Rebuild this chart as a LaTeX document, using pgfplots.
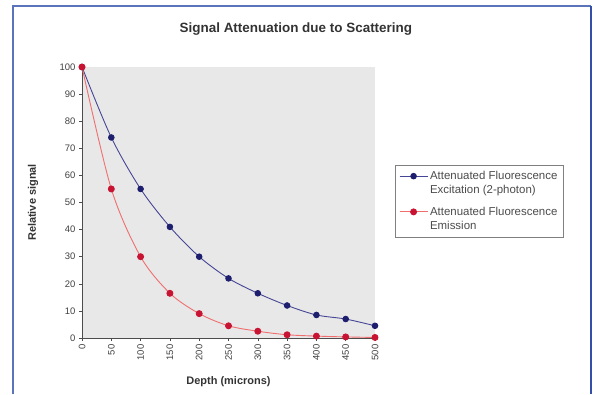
\documentclass[border=0pt]{standalone}
\usepackage{fontspec}
\setmainfont{Liberation Sans}
\usepackage{pgfplots}
\pgfplotsset{compat=1.18}
\definecolor{plotbg}{RGB}{232,232,232}
\definecolor{bluel}{RGB}{70,70,150}
\definecolor{bluem}{RGB}{30,30,110}
\definecolor{redl}{RGB}{240,110,110}
\definecolor{redm}{RGB}{200,20,50}
\definecolor{frame}{RGB}{50,80,170}
\begin{document}
\begin{tikzpicture}[x=1bp,y=1bp]
\useasboundingbox (0,0) rectangle (594,394);
\draw[frame!80,line width=1.5bp] (13,0) -- (13,388) -- (591,388);
\draw[frame,line width=2.5bp] (591,388) -- (591,0);
\begin{axis}[
  at={(82bp,56bp)}, anchor=south west,
  scale only axis, width=293bp, height=271bp,
  xmin=0, xmax=500, ymin=0, ymax=100,
  xtick={0,50,...,500}, ytick={0,10,...,100},
  axis lines*=left, axis line style={-, black!70, line width=0.8bp},
  axis background/.style={fill=plotbg},
  tick style={black!70, line width=0.6bp},
  tick align=outside, major tick length=3bp,
  /pgf/number format/assume math mode=true,
  tick label style={font=\fontsize{9.5}{10}\selectfont, text=black!75},
  xticklabel style={rotate=90, anchor=east},
  xlabel={\textbf{Depth (microns)}},
  ylabel={\textbf{Relative signal}},
  label style={font=\fontsize{11}{12}\selectfont, text=black!80},
  xlabel style={at={(axis description cs:0.5,-0.16)}, anchor=center},
  ylabel style={at={(axis description cs:-0.167,0.5)}, anchor=center},
  title={\textbf{Signal Attenuation due to Scattering}},
  title style={at={(axis description cs:0.73,1.118)}, anchor=center, font=\fontsize{13.5}{15}\selectfont, text=black!80},
  legend style={at={(axis description cs:1.068,0.638)}, anchor=north west,
    draw=black!50, fill=white, font=\fontsize{11.5}{14}\selectfont, text=black!70,
    cells={align=left}, row sep=8bp, inner sep=4bp},
  legend cell align=left,
  legend image code/.code={\path[draw=none,fill=none] (0bp,-7bp) rectangle (0.1bp,7bp);
    \draw[mark repeat=2,mark phase=2] plot coordinates {(0bp,7bp) (14bp,7bp) (28bp,7bp)};},
]
\addplot[bluel, line width=0.9bp, smooth, mark=*, mark size=2.8bp, mark options={fill=bluem, draw=bluem}]
coordinates {(0,100) (50,74) (100,55) (150,41) (200,30) (250,22) (300,16.5) (350,12) (400,8.5) (450,7) (500,4.5)};
\addlegendentry{Attenuated Fluorescence\\Excitation (2-photon)}
\addplot[redl, line width=0.9bp, smooth, mark=*, mark size=3bp, mark options={fill=redm, draw=redm}]
coordinates {(0,100) (50,55) (100,30) (150,16.5) (200,9) (250,4.5) (300,2.5) (350,1.2) (400,0.7) (450,0.4) (500,0.2)};
\addlegendentry{Attenuated Fluorescence\\Emission}
\end{axis}
\end{tikzpicture}
\end{document}
